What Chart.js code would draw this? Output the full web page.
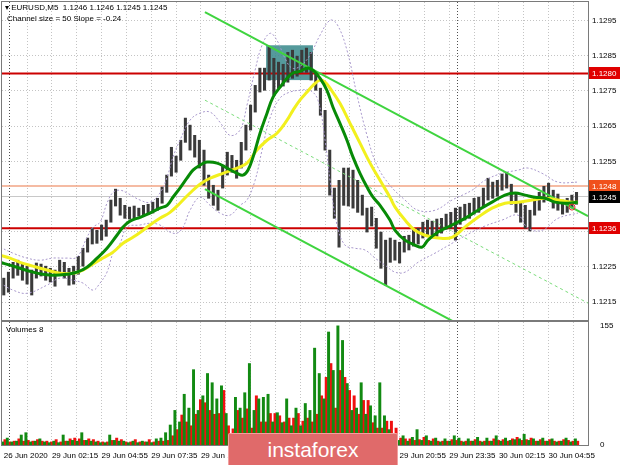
<!DOCTYPE html>
<html>
<head>
<meta charset="utf-8">
<script src="https://cdn.jsdelivr.net/npm/chart.js@4.4.0/dist/chart.umd.min.js"></script>
<style>
  body{margin:0;background:#fff;width:620px;height:465px;overflow:hidden;position:relative;font-family:"Liberation Sans",Arial,sans-serif}
  #priceBox{position:absolute;left:0;top:0;width:620px;height:322px}
  #volBox{position:absolute;left:0;top:320px;width:620px;height:145px}
  .info{position:absolute;font-size:8px;color:#000;white-space:pre}
  #logo{position:absolute;left:228px;top:433px;width:170px;height:32px;background:#e06a6a;border:1px solid #f2a0a0;border-bottom:none;
        color:#fff;font-size:21px;text-align:center;line-height:31px;border-radius:2px 2px 0 0;box-sizing:border-box}
</style>
</head>
<body>
<div id="priceBox"><canvas id="priceChart"></canvas></div>
<div id="volBox"><canvas id="volChart"></canvas></div>
<div class="info" style="left:5px;top:3px">▾ EURUSD,M5  1.1246 1.1246 1.1245 1.1245</div>
<div class="info" style="left:7px;top:14px">Channel size = 50 Slope = -0.24</div>
<div class="info" style="left:6px;top:325px">Volumes 8</div>
<div id="logo">instaforex</div>
<script>
// x = number of M5 bars since 29 Jun 00:00
const axisMinBar = -5.15, axisMaxBar = 372.4;
const priceMin = 1.12099, priceMax = 1.13003;

// one sample every 3 bars, first one at bar -4
const sampleBar0 = -4, sampleStep = 3;
const priceHigh = [1.12218,1.12235,1.12263,1.12269,1.12258,1.12252,1.12241,1.12261,1.12258,1.12252,
  1.12246,1.12241,1.12269,1.12263,1.12246,1.12252,1.12280,1.12303,1.12332,1.12360,
  1.12354,1.12369,1.12383,1.12440,1.12471,1.12445,1.12425,1.12420,1.12423,1.12417,
  1.12425,1.12428,1.12434,1.12445,1.12477,1.12511,1.12590,1.12565,1.12610,1.12673,
  1.12653,1.12624,1.12610,1.12582,1.12511,1.12482,1.12468,1.12539,1.12576,1.12567,
  1.12553,1.12604,1.12653,1.12710,1.12766,1.12815,1.12815,1.12874,1.12843,1.12832,
  1.12826,1.12860,1.12866,1.12849,1.12866,1.12872,1.12860,1.12798,1.12758,1.12695,
  1.12582,1.12474,1.12496,1.12531,1.12531,1.12525,1.12496,1.12454,1.12417,1.12420,
  1.12388,1.12349,1.12326,1.12332,1.12326,1.12320,1.12337,1.12340,1.12354,1.12360,
  1.12377,1.12383,1.12380,1.12386,1.12388,1.12400,1.12405,1.12417,1.12420,1.12428,
  1.12431,1.12445,1.12448,1.12474,1.12502,1.12491,1.12496,1.12514,1.12519,1.12485,
  1.12462,1.12434,1.12425,1.12411,1.12445,1.12462,1.12479,1.12488,1.12468,1.12457,
  1.12440,1.12445,1.12454,1.12462];
const priceLow = [1.12170,1.12178,1.12218,1.12226,1.12212,1.12201,1.12170,1.12218,1.12224,1.12212,
  1.12207,1.12195,1.12229,1.12218,1.12198,1.12201,1.12229,1.12252,1.12292,1.12315,
  1.12317,1.12326,1.12337,1.12377,1.12423,1.12397,1.12388,1.12386,1.12388,1.12394,
  1.12397,1.12400,1.12403,1.12411,1.12431,1.12462,1.12508,1.12519,1.12553,1.12604,
  1.12582,1.12562,1.12531,1.12482,1.12445,1.12425,1.12411,1.12474,1.12511,1.12519,
  1.12502,1.12531,1.12582,1.12639,1.12690,1.12747,1.12752,1.12781,1.12738,1.12758,
  1.12764,1.12775,1.12786,1.12792,1.12803,1.12803,1.12781,1.12752,1.12681,1.12582,
  1.12454,1.12388,1.12306,1.12425,1.12423,1.12417,1.12405,1.12397,1.12349,1.12366,
  1.12303,1.12246,1.12198,1.12263,1.12269,1.12261,1.12292,1.12298,1.12309,1.12315,
  1.12332,1.12337,1.12340,1.12337,1.12346,1.12357,1.12360,1.12326,1.12371,1.12383,
  1.12388,1.12400,1.12405,1.12423,1.12440,1.12445,1.12451,1.12468,1.12474,1.12428,
  1.12405,1.12377,1.12360,1.12352,1.12397,1.12411,1.12434,1.12440,1.12417,1.12411,
  1.12400,1.12405,1.12417,1.12428];

const volUp = [4,9,4,5,13,16,4,5,8,4, 3,5,3,13,5,6,5,16,6,5, 4,3,3,13,6,5,5,3,5,3,
  5,4,3,8,9,16,26,45,30,66, 48,98,45,64,93,81,60,77,41,15, 62,48,68,106,45,60,62,66,30,42,
  29,60,25,48,25,54,45,126,93,60, 147,97,155,136,80,45,48,81,40,51, 38,81,38,20,15,6,12,5,10,20,
  6,12,5,9,4,8,5,12,9,4, 8,5,10,4,9,5,12,5,9,6, 7,8,14,6,8,5,9,5,8,4, 5,9,4,8];
const volDown = [7,4,5,8,5,6,5,7,5,5, 4,7,4,5,8,9,8,6,8,7, 5,4,4,6,9,7,4,4,7,4,
  4,7,4,5,5,6,12,20,39,30, 25,40,59,55,45,40,41,71,25,21, 45,35,47,22,64,30,30,41,41,38,
  30,35,35,41,31,35,30,40,64,88, 106,48,97,88,71,64,40,58,58,29, 22,22,31,31,22,9,8,8,6,7,
  10,6,8,5,5,5,7,6,5,5, 5,7,5,5,5,8,6,7,5,8, 10,6,7,9,5,7,5,7,5,5, 7,6,5,5];

// [bar, price]
const maGreen = [[-6.4,1.12263],[0,1.12255],[6.4,1.12246],[14.8,1.12235],[21.3,1.12229],[27.7,1.12226],[36.7,1.12229],
  [43.2,1.12235],[49.6,1.12249],[56.1,1.12275],[62.5,1.12303],[68.9,1.12340],[72.8,1.12363],[77.3,1.12380],[83.8,1.12391],
  [90.2,1.12403],[96.6,1.12417],[101.2,1.12425],[105,1.12448],[109.5,1.12474],[114,1.12502],[117.9,1.12525],[122.4,1.12539],
  [126.9,1.12548],[133.4,1.12545],[139.8,1.12531],[146.3,1.12516],[150.1,1.12511],[153.3,1.12525],[156.6,1.12562],
  [161.1,1.12630],[165.6,1.12687],[169.4,1.12732],[174,1.12761],[178.5,1.12786],[182.3,1.12801],[186.8,1.12806],
  [191.4,1.12815],[195.2,1.12809],[199.8,1.12786],[204.2,1.12752],[208.1,1.12704],[212.6,1.12658],[217.1,1.12610],
  [221,1.12562],[225.5,1.12516],[230,1.12477],[233.9,1.12448],[238.4,1.12425],[244.8,1.12383],[248.1,1.12354],
  [254.5,1.12326],[260.9,1.12312],[265.5,1.12306],[269.3,1.12326],[275.8,1.12349],[284.8,1.12369],[293.1,1.12388],
  [301.5,1.12411],[310.6,1.12434],[318.9,1.12454],[325.4,1.12460],[331.8,1.12454],[338.3,1.12448],[344.7,1.12445],
  [351.1,1.12434],[357.6,1.12431],[365.9,1.12434]];
const maYellow = [[-6.4,1.12283],[0,1.12275],[6.4,1.12263],[14.8,1.12252],[23.8,1.12241],[32.2,1.12232],[40.6,1.12232],
  [47,1.12241],[53.5,1.12258],[59.9,1.12275],[66.4,1.12292],[72.8,1.12317],[79.2,1.12334],[85.7,1.12354],[90.2,1.12369],
  [96.6,1.12388],[103.1,1.12405],[109.5,1.12431],[116,1.12460],[122.4,1.12485],[128.9,1.12502],[137.2,1.12516],
  [146.3,1.12531],[152.7,1.12545],[159.1,1.12582],[165.6,1.12610],[172,1.12630],[178.5,1.12667],[182.3,1.12695],
  [186.8,1.12724],[191.4,1.12747],[195.2,1.12766],[199.8,1.12781],[203,1.12775],[206.2,1.12758],[212.6,1.12715],
  [219.1,1.12658],[225.5,1.12602],[232,1.12545],[238.4,1.12496],[244.8,1.12448],[248.1,1.12420],[254.5,1.12383],
  [260.9,1.12354],[267.4,1.12340],[275.8,1.12332],[284.8,1.12334],[293.1,1.12363],[301.5,1.12391],[310.6,1.12417],
  [318.9,1.12431],[327.3,1.12434],[336.3,1.12440],[344.7,1.12445],[353.1,1.12440],[362.1,1.12434],[365.9,1.12434]];
const bandUpper = [[-6.4,1.12306],[1.9,1.12289],[11,1.12275],[19.3,1.12269],[27.7,1.12275],[36.7,1.12275],[43.2,1.12278],
  [49.6,1.12334],[53.5,1.12363],[58,1.12377],[62.5,1.12431],[66.4,1.12462],[70.9,1.12468],[75.4,1.12460],[83.8,1.12440],
  [90.2,1.12434],[96.6,1.12460],[101.2,1.12505],[105,1.12562],[109.5,1.12610],[116,1.12667],[122.4,1.12687],
  [128.9,1.12690],[135.3,1.12661],[141.7,1.12624],[148.2,1.12639],[152.7,1.12710],[157.9,1.12809],[162.4,1.12880],
  [167.5,1.12914],[172,1.12894],[177.2,1.12843],[181.7,1.12815],[186.8,1.12820],[193.3,1.12852],[199.8,1.12909],
  [206.2,1.12951],[210.7,1.12940],[217.1,1.12866],[223.6,1.12738],[230,1.12624],[236.4,1.12539],[244.8,1.12482],
  [254.5,1.12440],[262.9,1.12411],[273.8,1.12411],[284.8,1.12440],[297.7,1.12468],[306,1.12496],[317,1.12516],
  [327.3,1.12525],[333.7,1.12531],[342.8,1.12516],[353.1,1.12491],[365.9,1.12491]];
const bandLower = [[-6.4,1.12204],[1.9,1.12184],[11,1.12175],[23.8,1.12198],[32.2,1.12218],[40.6,1.12212],[47,1.12204],
  [53.5,1.12184],[58,1.12204],[62.5,1.12235],[66.4,1.12289],[70.9,1.12317],[75.4,1.12363],[83.8,1.12369],[90.2,1.12374],
  [96.6,1.12369],[103.1,1.12349],[107.6,1.12346],[111.5,1.12363],[116,1.12411],[122.4,1.12448],[128.9,1.12425],
  [135.3,1.12403],[141.7,1.12397],[148.2,1.12425],[152.7,1.12440],[157.9,1.12496],[162.4,1.12582],[167.5,1.12673],
  [174,1.12730],[180.4,1.12747],[186.8,1.12752],[193.3,1.12752],[198.4,1.12724],[203,1.12610],[206.2,1.12496],
  [210.7,1.12369],[215.8,1.12312],[222.3,1.12303],[228.7,1.12298],[235.2,1.12275],[241.6,1.12255],[248.1,1.12235],
  [254.5,1.12235],[262.9,1.12263],[273.8,1.12289],[284.8,1.12317],[297.7,1.12349],[306,1.12366],[317,1.12383],
  [327.3,1.12397],[333.7,1.12360],[342.8,1.12354],[353.1,1.12388],[365.9,1.12403]];

// regression channel: start / end bar and prices
const channelBars = [125.6, 372.4];
const channelUpper = [1.12974, 1.12394];
const channelMiddle = [1.12724, 1.12147];
const channelLower = [1.12471, 1.11891];

// levels, zone and marker
const redLevels = [1.1280, 1.1236];
const orangeLevel = 1.1248;
const bidLevel = 1.1245;
const zoneBars = [165, 195.2];
const zonePrices = [1.12781, 1.12880];
const markerPoint = [362.1, 1.12420];

// axes
const priceTicks = [1.1215, 1.1225, 1.1235, 1.1245, 1.1255, 1.1265, 1.1275, 1.1285, 1.1295];
const gridBars = [11,27,43,59,75,91,107,123,139,155,171,187,203,219,235,251,267,283,299,315,331,347,363];
const separatorBars = [0, 288];
const labelBars = [-4, 27, 59, 91, 123, 155, 187, 219, 251, 283, 315, 347];
const labelTexts = ["26 Jun 2020","29 Jun 02:15","29 Jun 04:55","29 Jun 07:35","29 Jun 10:15","29 Jun 12:55",
  "29 Jun 15:35","29 Jun 18:15","29 Jun 20:55","29 Jun 23:35","30 Jun 02:15","30 Jun 04:55"];
const volTicks = [0, 155];

const tagList = [
  {price: redLevels[0], text: "1.1280", bg: "#e00000"},
  {price: orangeLevel, text: "1.1248", bg: "#f0501c"},
  {price: bidLevel, text: "1.1245", bg: "#000000"},
  {price: redLevels[1], text: "1.1236", bg: "#e00000"}
];

const sampleBars = priceHigh.map((_, k) => sampleBar0 + sampleStep * k);
const font8 = {family: "Liberation Sans", size: 8};

function pts(list){ return list.map(p => ({x: p[0], y: p[1]})); }
function hline(price){ return [{x: axisMinBar, y: price}, {x: axisMaxBar, y: price}]; }
function noPad(s){ s.paddingLeft = 0; s.paddingRight = 0; s.paddingTop = 0; s.paddingBottom = 0; }

function xAxis(showLabels){
  const all = [...new Set([...gridBars, ...separatorBars, ...labelBars])].sort((a,b)=>a-b);
  return {
    type: 'linear', min: axisMinBar, max: axisMaxBar, offset: false,
    afterBuildTicks: s => { s.ticks = all.map(v => ({value: v})); },
    afterFit: s => { s.height = showLabels ? 20 : 0; noPad(s); },
    grid: {
      offset: false, drawTicks: false, lineWidth: 1,
      color: c => {
        const v = c.tick ? c.tick.value : null;
        if (separatorBars.includes(v)) return '#505050';
        if (gridBars.includes(v)) return '#c4c4c4';
        return 'rgba(0,0,0,0)';
      }
    },
    border: {display: false, dash: [1, 2]},
    ticks: {
      display: showLabels, autoSkip: false, maxRotation: 0, align: 'start', padding: 6,
      color: '#000', font: font8,
      callback: v => { const i = labelBars.indexOf(v); return i >= 0 ? labelTexts[i] : ''; }
    }
  };
}

const framePlugin = {
  id: 'frame',
  afterDraw(chart){
    const a = chart.chartArea, ctx = chart.ctx;
    ctx.save();
    ctx.strokeStyle = '#7a7a7a';
    ctx.lineWidth = 1;
    ctx.strokeRect(a.left - 0.5, a.top - 0.5, a.right - a.left + 1, a.bottom - a.top + 1);
    ctx.restore();
  }
};

const zonePlugin = {
  id: 'zone',
  beforeDatasetsDraw(chart){
    const x = chart.scales.x, y = chart.scales.y, ctx = chart.ctx;
    const x0 = x.getPixelForValue(zoneBars[0]), x1 = x.getPixelForValue(zoneBars[1]);
    const y0 = y.getPixelForValue(zonePrices[1]), y1 = y.getPixelForValue(zonePrices[0]);
    ctx.save();
    ctx.fillStyle = 'rgba(62,140,142,0.88)';
    ctx.fillRect(x0, y0, x1 - x0, y1 - y0);
    ctx.restore();
  }
};

const tagPlugin = {
  id: 'tags',
  afterDraw(chart){
    const y = chart.scales.y, ctx = chart.ctx, left = chart.chartArea.right + 1;
    ctx.save();
    ctx.font = '8px "Liberation Sans"';
    ctx.textBaseline = 'middle';
    tagList.forEach(t => {
      const py = Math.round(y.getPixelForValue(t.price));
      ctx.fillStyle = t.bg;
      ctx.fillRect(left, py - 6, 620 - left, 12);
      ctx.fillStyle = '#fff';
      ctx.fillText(t.text, left + 3, py + 0.5);
    });
    ctx.restore();
  }
};

new Chart(document.getElementById('priceChart'), {
  type: 'line',
  data: {
    datasets: [
      {label: 'marker', data: [{x: markerPoint[0], y: markerPoint[1]}], showLine: false, pointRadius: 3,
        pointBorderColor: '#e03030', pointBackgroundColor: 'rgba(0,0,0,0)', pointBorderWidth: 1, order: 0},
      {label: 'MA fast', data: pts(maGreen), borderColor: '#078a07', borderWidth: 3, pointRadius: 0, tension: 0.4, order: 1},
      {label: 'MA slow', data: pts(maYellow), borderColor: '#f2f01e', borderWidth: 3, pointRadius: 0, tension: 0.4, order: 2},
      {label: 'ch up', data: [{x: channelBars[0], y: channelUpper[0]}, {x: channelBars[1], y: channelUpper[1]}],
        borderColor: '#3fd43f', borderWidth: 2, pointRadius: 0, order: 3},
      {label: 'ch mid', data: [{x: channelBars[0], y: channelMiddle[0]}, {x: channelBars[1], y: channelMiddle[1]}],
        borderColor: '#7bdc7b', borderWidth: 1, borderDash: [3, 3], pointRadius: 0, order: 3},
      {label: 'ch low', data: [{x: channelBars[0], y: channelLower[0]}, {x: channelBars[1], y: channelLower[1]}],
        borderColor: '#3fd43f', borderWidth: 2, pointRadius: 0, order: 3},
      {label: 'band up', data: pts(bandUpper), borderColor: '#a898cc', borderWidth: 1, borderDash: [2, 2], pointRadius: 0, tension: 0.4, order: 4},
      {label: 'band low', data: pts(bandLower), borderColor: '#a898cc', borderWidth: 1, borderDash: [2, 2], pointRadius: 0, tension: 0.4, order: 4},
      {type: 'bar', label: 'price', data: sampleBars.map((b, k) => ({x: b, y: [priceLow[k], priceHigh[k]]})),
        backgroundColor: '#3a3a3a', barThickness: 2.4, borderWidth: 0, order: 6},
      {label: 'r1', data: hline(redLevels[0]), borderColor: '#cc0000', borderWidth: 2, pointRadius: 0, order: 7},
      {label: 'r2', data: hline(redLevels[1]), borderColor: '#cc0000', borderWidth: 2, pointRadius: 0, order: 7},
      {label: 'orange', data: hline(orangeLevel), borderColor: '#f2a584', borderWidth: 1.5, pointRadius: 0, order: 7},
      {label: 'bid', data: hline(bidLevel), borderColor: '#c8c8c8', borderWidth: 1, pointRadius: 0, order: 8}
    ]
  },
  options: {
    responsive: true, maintainAspectRatio: false, animation: false,
    layout: {autoPadding: false, padding: {left: 2, top: 2, bottom: 2, right: 0}},
    plugins: {legend: {display: false}, tooltip: {enabled: false}},
    scales: {
      x: xAxis(false),
      y: {
        position: 'right', min: priceMin, max: priceMax,
        afterBuildTicks: s => { s.ticks = priceTicks.map(v => ({value: v})); },
        afterFit: s => { s.width = 32; noPad(s); },
        grid: {drawTicks: false, color: '#c4c4c4'},
        border: {display: false, dash: [1, 2]},
        ticks: {padding: 4, color: '#000', font: font8, callback: v => v.toFixed(4)}
      }
    }
  },
  plugins: [zonePlugin, framePlugin, tagPlugin]
});

new Chart(document.getElementById('volChart'), {
  type: 'bar',
  data: {
    datasets: [
      {label: 'up', data: sampleBars.map((b, k) => ({x: b, y: volUp[k]})), backgroundColor: '#128a12', barThickness: 2.3, borderWidth: 0},
      {label: 'down', data: sampleBars.map((b, k) => ({x: b, y: volDown[k]})), backgroundColor: '#f01010', barThickness: 2.3, borderWidth: 0}
    ]
  },
  options: {
    responsive: true, maintainAspectRatio: false, animation: false,
    layout: {autoPadding: false, padding: {left: 2, top: 2, bottom: 0, right: 0}},
    plugins: {legend: {display: false}, tooltip: {enabled: false}},
    scales: {
      x: xAxis(true),
      y: {
        position: 'right', min: 0, max: 160,
        afterBuildTicks: s => { s.ticks = volTicks.map(v => ({value: v})); },
        afterFit: s => { s.width = 32; noPad(s); },
        grid: {display: false},
        border: {display: false},
        ticks: {padding: 4, color: '#000', font: font8}
      }
    }
  },
  plugins: [framePlugin]
});
</script>
</body>
</html>
